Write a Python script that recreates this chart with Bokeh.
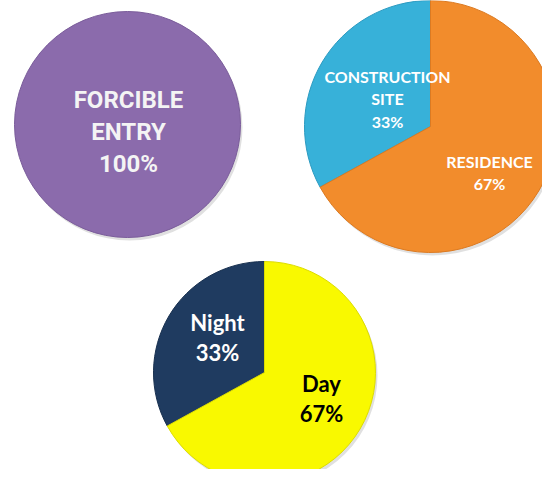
import math
from bokeh.plotting import figure
from bokeh.models import Range1d, ColumnDataSource
from bokeh.core.properties import value
from bokeh.embed import file_html
from bokeh.resources import INLINE

# ---- data ----
pie1_categories = ["FORCIBLE ENTRY"]
pie1_values = [100]
pie2_categories = ["CONSTRUCTION SITE", "RESIDENCE"]
pie2_values = [33, 67]
pie3_categories = ["Night", "Day"]
pie3_values = [33, 67]

# ---- styling / layout ----
W, H = 542, 469
PAGE_H = 485  # reference picture height (pixels), used to flip y

pies = [
    dict(cats=pie1_categories, vals=pie1_values, cx=127, cy=124, r=113,
         colors=["#8B6BAC"], edges=["#7A5C9A"],
         label_pos=[(128, 131)], font="Roboto", size=24, line_h=32,
         text_colors=["#F4F4F4"]),
    dict(cats=pie2_categories, vals=pie2_values, cx=430, cy=126, r=126,
         colors=["#37B1D9", "#F28C2C"], edges=["#2C9AC0", "#DB7A22"],
         label_pos=[(387, 98), (489, 172)], font="Lato", size=16, line_h=22.5,
         text_colors=["#FFFFFF", "#FFFFFF"]),
    dict(cats=pie3_categories, vals=pie3_values, cx=264, cy=372, r=111,
         colors=["#1F3B60", "#F9F900"], edges=["#18304F", "#DCDC00"],
         label_pos=[(217, 337), (321, 398)], font="Lato", size=22, line_h=30,
         text_colors=["#FFFFFF", "#000000"]),
]

p = figure(width=W, height=H, output_backend="svg", toolbar_location=None,
           x_range=Range1d(0, W), y_range=Range1d(PAGE_H - H, PAGE_H),
           min_border=0, outline_line_color=None)
p.axis.visible = False
p.grid.visible = False
p.background_fill_color = "white"
p.border_fill_color = "white"

for pie in pies:
    vals = pie["vals"]
    total = float(sum(vals))
    starts, ends = [], []
    a = math.pi / 2
    for v in vals:
        starts.append(a)
        a += 2 * math.pi * v / total
        ends.append(a)
    cy = PAGE_H - pie["cy"]
    # soft shadow
    p.circle(x=[pie["cx"] + 2], y=[cy - 3], radius=pie["r"], fill_color="#000000",
             fill_alpha=0.12, line_color=None)
    if len(vals) == 1:
        p.circle(x=[pie["cx"]], y=[cy], radius=pie["r"], fill_color=pie["colors"][0],
                 line_color=pie["edges"][0], line_width=1)
    else:
        src = ColumnDataSource(dict(
            x=[pie["cx"]] * len(vals), y=[cy] * len(vals),
            start=starts, end=ends, color=pie["colors"], edge=pie["edges"]))
        p.wedge(x="x", y="y", radius=pie["r"], start_angle="start", end_angle="end",
                direction="anticlock", fill_color="color", line_color="edge",
                line_width=1, source=src)

    # labels
    tx, ty, tt, tc = [], [], [], []
    for cat, v, (lx, ly), col in zip(pie["cats"], vals, pie["label_pos"], pie["text_colors"]):
        lines = cat.split(" ") + [f"{v}%"]
        n = len(lines)
        for i, line in enumerate(lines):
            y_px = ly + (i - (n - 1) / 2) * pie["line_h"]
            tx.append(lx)
            ty.append(PAGE_H - y_px)
            tt.append(line)
            tc.append(col)
    p.text(x=tx, y=ty, text=tt, text_color=tc, text_align="center",
           text_baseline="middle", text_font=value(pie["font"]),
           text_font_style="bold", text_font_size=f"{pie['size']}px")

open("out.html", "w").write(file_html(p, INLINE))
